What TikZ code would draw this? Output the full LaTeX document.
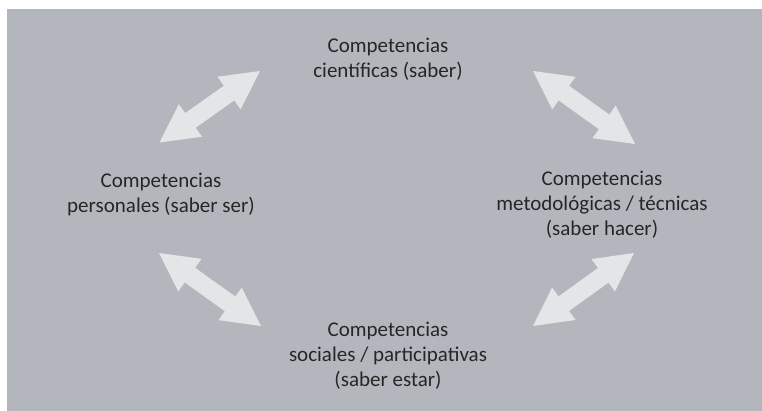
\documentclass[tikz,border=0pt]{standalone}
\usepackage{fontspec}
\setmainfont{Carlito}
\usetikzlibrary{calc}
\definecolor{bggray}{RGB}{179,183,189}
\definecolor{arrowgray}{RGB}{228,229,231}
\definecolor{textgray}{RGB}{38,38,38}
\begin{document}
\begin{tikzpicture}[x=1pt,y=-1pt,
  lbl/.style={align=center, anchor=base, text=textgray, font=\fontsize{21}{25}\selectfont, inner sep=0pt},
  fatarrow/.style={to path={
    let \p1=(\tikztostart), \p2=(\tikztotarget), \n1={atan2(\y2-\y1,\x2-\x1)} in
    -- ($(\p1)+(\n1:38pt)+(\n1+90:20pt)$)
    -- ($(\p1)+(\n1:38pt)+(\n1+90:9pt)$)
    -- ($(\p2)-(\n1:38pt)+(\n1+90:9pt)$)
    -- ($(\p2)-(\n1:38pt)+(\n1+90:20pt)$)
    -- (\p2)
    -- ($(\p2)-(\n1:38pt)-(\n1+90:20pt)$)
    -- ($(\p2)-(\n1:38pt)-(\n1+90:9pt)$)
    -- ($(\p1)+(\n1:38pt)-(\n1+90:9pt)$)
    -- ($(\p1)+(\n1:38pt)-(\n1+90:20pt)$)
    -- cycle}}
]
\useasboundingbox (0,0) rectangle (762,411);
\fill[bggray] (7,9) rectangle (762,411);

\node[lbl] (top) at (388,78) {Competencias\\científicas (saber)};
\node[lbl] (left) at (161,213) {Competencias\\personales (saber ser)};
\node[lbl] (right) at (602,236) {Competencias\\metodológicas / técnicas\\(saber hacer)};
\node[lbl] (bottom) at (388,386) {Competencias\\sociales / participativas\\(saber estar)};

\coordinate (a1s) at (159.5,142.5);
\coordinate (a1e) at (260,71);
\coordinate (a2s) at (533,71);
\coordinate (a2e) at (635,144);
\coordinate (a3s) at (159,253);
\coordinate (a3e) at (261,326);
\coordinate (a4s) at (634,253);
\coordinate (a4e) at (533,326);

\fill[arrowgray] (a1s) to[fatarrow] (a1e);
\fill[arrowgray] (a2s) to[fatarrow] (a2e);
\fill[arrowgray] (a3s) to[fatarrow] (a3e);
\fill[arrowgray] (a4s) to[fatarrow] (a4e);
\end{tikzpicture}
\end{document}
